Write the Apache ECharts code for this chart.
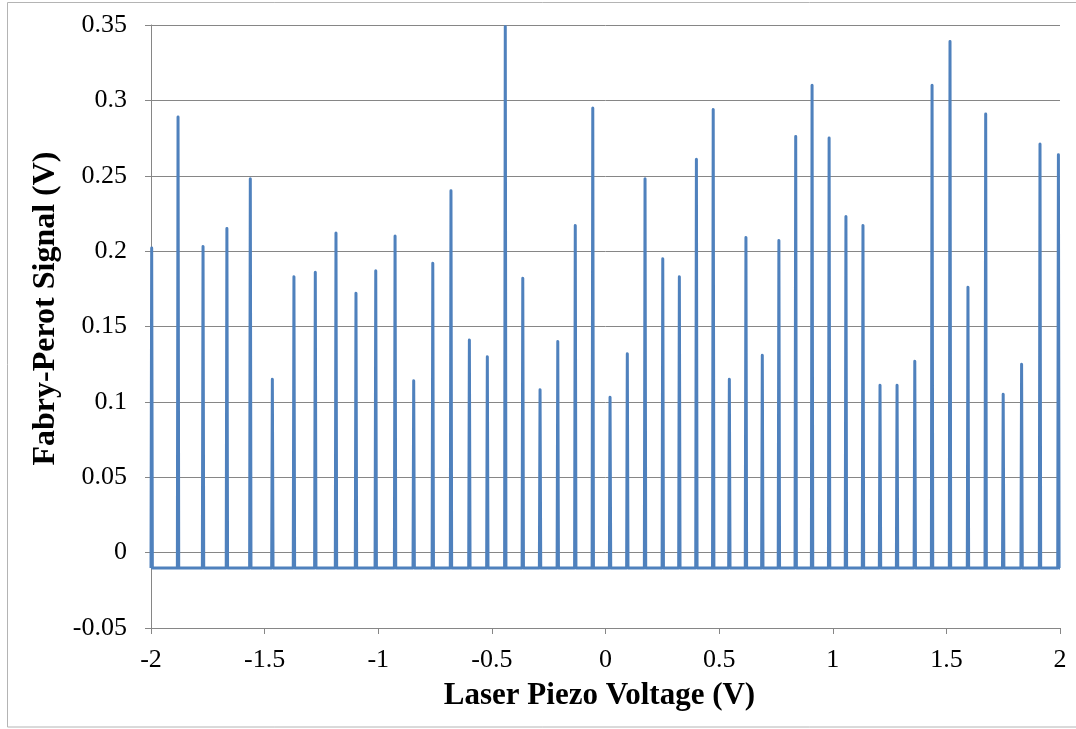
<!DOCTYPE html>
<html>
<head>
<meta charset="utf-8">
<title>Fabry-Perot Signal vs Laser Piezo Voltage</title>
<script src="https://cdn.jsdelivr.net/npm/echarts@6/dist/echarts.min.js"></script>
<style>
  html, body { margin: 0; padding: 0; background: #ffffff; }
  #chart { width: 1076px; height: 729px; }
</style>
</head>
<body>
<div id="chart"></div>
<script>
// Transmission peaks of the Fabry-Perot cavity while sweeping the laser piezo
const peakVoltage = [
  -1.997, -1.881, -1.771, -1.666, -1.563, -1.466, -1.371, -1.277, -1.186, -1.098,
  -1.011, -0.926, -0.844, -0.760, -0.680, -0.599, -0.520, -0.441, -0.364, -0.288,
  -0.210, -0.133, -0.056, 0.020, 0.096, 0.174, 0.252, 0.325, 0.400, 0.474,
  0.545, 0.618, 0.690, 0.763, 0.837, 0.909, 0.984, 1.058, 1.133, 1.208,
  1.283, 1.361, 1.437, 1.516, 1.595, 1.673, 1.750, 1.831, 1.912, 1.993
];
const peakSignal = [
  0.202, 0.289, 0.203, 0.215, 0.248, 0.115, 0.183, 0.186, 0.212, 0.172,
  0.187, 0.210, 0.114, 0.192, 0.240, 0.141, 0.130, 0.349, 0.182, 0.108,
  0.140, 0.217, 0.295, 0.103, 0.132, 0.248, 0.195, 0.183, 0.261, 0.294,
  0.115, 0.209, 0.131, 0.207, 0.276, 0.310, 0.275, 0.223, 0.217, 0.111,
  0.111, 0.127, 0.310, 0.339, 0.176, 0.291, 0.105, 0.125, 0.271, 0.264
];
// Detector offset between transmission peaks
const baselineSignal = -0.0102;

const xTicks = { min: -2, max: 2, step: 0.5 };
const yTicks = { min: -0.05, max: 0.35, step: 0.05 };

// Each narrow peak is traced as baseline -> apex -> baseline
const halfWidth = 0.003;
const trace = [];
peakVoltage.forEach((v, i) => {
  trace.push([Math.max(xTicks.min, v - halfWidth), baselineSignal]);
  trace.push([v, peakSignal[i]]);
  trace.push([Math.min(xTicks.max, v + halfWidth), baselineSignal]);
  if (i < peakVoltage.length - 1) {
    trace.push([(v + peakVoltage[i + 1]) / 2, baselineSignal]);
  }
});
trace.push([xTicks.max, baselineSignal]);

const serif = '"Liberation Serif", "Times New Roman", serif';
const chart = echarts.init(document.getElementById('chart'), null, { renderer: 'canvas' });

chart.setOption({
  backgroundColor: '#ffffff',
  animation: false,
  grid: { left: 151, right: 16, top: 25, bottom: 101, containLabel: false },
  graphic: [{
    type: 'rect',
    shape: { x: 7.5, y: 2.5, width: 1090, height: 724.5 },
    style: { fill: 'none', stroke: '#b4b4b4', lineWidth: 1 },
    silent: true
  }],
  xAxis: {
    type: 'value',
    min: xTicks.min, max: xTicks.max, interval: xTicks.step,
    name: 'Laser Piezo Voltage (V)',
    nameLocation: 'middle',
    nameGap: 52,
    nameTextStyle: { fontFamily: serif, fontSize: 31, fontWeight: 'bold', color: '#000000', padding: [0, 12, 0, 0] },
    axisLine: { show: true, onZero: false, lineStyle: { color: '#868686', width: 1 } },
    axisTick: { show: true, length: 6, inside: false, lineStyle: { color: '#868686' } },
    axisLabel: { fontFamily: serif, fontSize: 26, color: '#000000', margin: 19 },
    splitLine: { show: false }
  },
  yAxis: {
    type: 'value',
    min: yTicks.min, max: yTicks.max, interval: yTicks.step,
    name: 'Fabry-Perot Signal (V)',
    nameLocation: 'middle',
    nameGap: 83,
    nameRotate: 90,
    nameTextStyle: { fontFamily: serif, fontSize: 32, fontWeight: 'bold', color: '#000000', padding: [0, 0, 0, 36] },
    axisLine: { show: true, onZero: false, lineStyle: { color: '#868686', width: 1 } },
    axisTick: { show: true, length: 6, inside: false, lineStyle: { color: '#868686' } },
    axisLabel: { fontFamily: serif, fontSize: 26, color: '#000000', margin: 24 },
    splitLine: { show: true, lineStyle: { color: '#868686', width: 1 } }
  },
  series: [{
    type: 'line',
    data: trace,
    showSymbol: false,
    symbol: 'none',
    clip: true,
    lineStyle: { color: '#4F81BD', width: 3, join: 'round' },
    itemStyle: { color: '#4F81BD' }
  }]
});
</script>
</body>
</html>
